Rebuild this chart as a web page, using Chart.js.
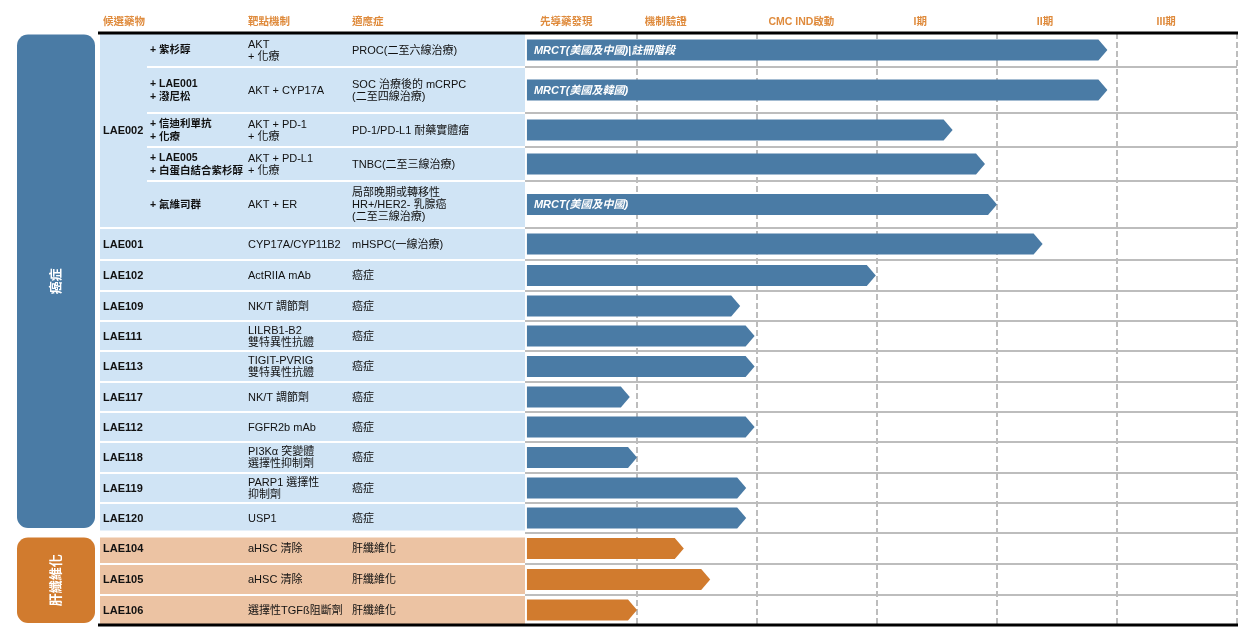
<!DOCTYPE html>
<html><head><meta charset="utf-8">
<script src="https://cdn.jsdelivr.net/npm/chart.js@4.4.1/dist/chart.umd.min.js"></script>
<style>html,body{margin:0;padding:0;background:#fff;}canvas{display:block}</style>
</head><body>
<canvas id="c" width="1256" height="644"></canvas>
<script>
// ---------------- data ----------------
const DRUGS = ['LAE002','LAE002','LAE002','LAE002','LAE002','LAE001','LAE102','LAE109','LAE111','LAE113','LAE117','LAE112','LAE118','LAE119','LAE120','LAE104','LAE105','LAE106'];
const COMBOS = ['+ 紫杉醇','+ LAE001\n+ 潑尼松','+ 信迪利單抗\n+ 化療','+ LAE005\n+ 白蛋白結合紫杉醇','+ 氟維司群','','','','','','','','','','','','',''];
const TARGETS = ['AKT\n+ 化療','AKT + CYP17A','AKT + PD-1\n+ 化療','AKT + PD-L1\n+ 化療','AKT + ER','CYP17A/CYP11B2','ActRIIA mAb','NK/T 調節劑','LILRB1-B2\n雙特異性抗體','TIGIT-PVRIG\n雙特異性抗體','NK/T 調節劑','FGFR2b mAb','PI3Kα 突變體\n選擇性抑制劑','PARP1 選擇性\n抑制劑','USP1','aHSC 清除','aHSC 清除','選擇性TGFß阻斷劑'];
const INDICATIONS = ['PROC(二至六線治療)','SOC 治療後的 mCRPC\n(二至四線治療)','PD-1/PD-L1 耐藥實體瘤','TNBC(二至三線治療)','局部晚期或轉移性\nHR+/HER2- 乳腺癌\n(二至三線治療)','mHSPC(一線治療)','癌症','癌症','癌症','癌症','癌症','癌症','癌症','癌症','癌症','肝纖維化','肝纖維化','肝纖維化'];
const GROUPS = ['癌症','癌症','癌症','癌症','癌症','癌症','癌症','癌症','癌症','癌症','癌症','癌症','癌症','癌症','癌症','肝纖維化','肝纖維化','肝纖維化'];
// progress reached, in stage units (0 = start of 先導藥發現, 6 = end of III期)
const STAGE_END = [4.92,4.92,3.63,3.9,4.0,4.38,2.99,1.86,1.98,1.98,0.94,1.98,1.0,1.91,1.91,1.39,1.61,1.0];
const BAR_NOTES = ['MRCT(美國及中國)|註冊階段','MRCT(美國及韓國)','','','MRCT(美國及中國)','','','','','','','','','','','','',''];
const STAGES = ['先導藥發現','機制驗證','CMC IND啟動','I期','II期','III期'];
const TABLE_HEADERS = ['候選藥物','靶點機制','適應症'];

// ---------------- layout / style ----------------
const ROW_HEIGHTS = [34,46,34,34,47,32,31,30,30,31,30,30,31,30,30,31,31,30];
const BAR_START = 0.083;
const STAGE_HEADER_POS = [0.41,1.24,2.37,3.36,4.4,5.41];
const COL_X = {drug:103, combo:150, target:248, ind:352, tableLeft:100, tableRight:525, comboLeft:147};
const STYLE = {
  '癌症': {dark:'#4a7ba5', light:'#d0e4f5'},
  '肝纖維化': {dark:'#d17b2e', light:'#ecc3a3'}
};
const FONT = "'Liberation Sans','Noto Sans CJK TC',sans-serif";
const HEADER_COLOR = '#df8b3d';
const TEXT_PX = 11;

const BOUNDS = [0];
ROW_HEIGHTS.forEach(h => BOUNDS.push(BOUNDS[BOUNDS.length-1] + h));
const TOTAL = BOUNDS[BOUNDS.length-1];
const CENTERS = ROW_HEIGHTS.map((h,i) => BOUNDS[i] + h/2);

function drawLines(ctx, text, x, y, lh, align){
  const lines = text.split('\n');
  ctx.textAlign = align || 'left';
  ctx.textBaseline = 'middle';
  const y0 = y - (lines.length-1)*lh/2;
  lines.forEach((l,k) => ctx.fillText(l, x, y0 + k*lh));
}

const tablePlugin = {
  id: 'pipelineTable',
  beforeDatasetsDraw(chart){
    const ctx = chart.ctx, ys = chart.scales.y, xs = chart.scales.x, ca = chart.chartArea;
    const py = v => ys.getPixelForValue(v);
    ctx.save();
    const groups = [];
    GROUPS.forEach((g,i) => {
      const last = groups[groups.length-1];
      if (last && last.name === g) last.end = i; else groups.push({name:g, start:i, end:i});
    });
    groups.forEach((grp, gi) => {
      const st = STYLE[grp.name];
      for (let i = grp.start; i <= grp.end; i++) {
        let t = py(BOUNDS[i]) + 1, b = py(BOUNDS[i+1]) - 1;
        if (i === grp.start && gi > 0) t += 3.5;
        if (i === grp.end && gi < groups.length-1) b -= 1.5;
        ctx.fillStyle = st.light;
        ctx.fillRect(COL_X.tableLeft, t, COL_X.tableRight - COL_X.tableLeft, b - t);
      }
      let bt = py(BOUNDS[grp.start]) + (gi > 0 ? 4.5 : 1.5);
      let bb = py(BOUNDS[grp.end+1]) - (gi < groups.length-1 ? 5 : 2);
      ctx.fillStyle = st.dark;
      ctx.beginPath();
      ctx.roundRect(17, bt, 78, bb - bt, 11);
      ctx.fill();
      ctx.save();
      ctx.translate(56, (bt + bb)/2);
      ctx.rotate(-Math.PI/2);
      ctx.fillStyle = '#fff';
      ctx.font = 'bold 13px ' + FONT;
      ctx.textAlign = 'center'; ctx.textBaseline = 'middle';
      ctx.fillText(grp.name, 0, 0);
      ctx.restore();
    });
    let i = 0;
    const spans = [];
    while (i < DRUGS.length) {
      let j = i;
      while (j+1 < DRUGS.length && DRUGS[j+1] === DRUGS[i] && COMBOS[j+1]) j++;
      spans.push({start:i, end:j});
      i = j+1;
    }
    spans.forEach(sp => {
      if (sp.end > sp.start) {
        const t = py(BOUNDS[sp.start]) + 1, b = py(BOUNDS[sp.end+1]) - 1;
        ctx.fillStyle = STYLE[GROUPS[sp.start]].light;
        ctx.fillRect(COL_X.tableLeft, t, COL_X.comboLeft - COL_X.tableLeft, b - t);
      }
    });
    ctx.fillStyle = '#111';
    spans.forEach(sp => {
      ctx.font = 'bold ' + TEXT_PX + 'px ' + FONT;
      const cy = (py(BOUNDS[sp.start]) + py(BOUNDS[sp.end+1]))/2;
      drawLines(ctx, DRUGS[sp.start], COL_X.drug, cy + 0.5, 12);
    });
    for (let r = 0; r < DRUGS.length; r++) {
      const cy = py(CENTERS[r]) + 0.5;
      if (COMBOS[r]) { ctx.font = 'bold 10.5px ' + FONT; drawLines(ctx, COMBOS[r], COL_X.combo, cy, 13); }
      ctx.font = TEXT_PX + 'px ' + FONT;
      drawLines(ctx, TARGETS[r], COL_X.target, cy, 12);
      drawLines(ctx, INDICATIONS[r], COL_X.ind, cy, 12);
    }
    ctx.strokeStyle = '#bdbdbd'; ctx.lineWidth = 2;
    for (let k = 1; k < BOUNDS.length-1; k++) {
      const y = py(BOUNDS[k]);
      ctx.beginPath(); ctx.moveTo(COL_X.tableRight, y); ctx.lineTo(ca.right, y); ctx.stroke();
    }
    ctx.setLineDash([6,3]);
    for (let s = 1; s <= STAGES.length; s++) {
      const x = xs.getPixelForValue(s);
      ctx.beginPath(); ctx.moveTo(x, ca.top); ctx.lineTo(x, ca.bottom); ctx.stroke();
    }
    ctx.setLineDash([]);
    ctx.strokeStyle = '#000'; ctx.lineWidth = 3;
    [ca.top, ca.bottom].forEach(y => { ctx.beginPath(); ctx.moveTo(COL_X.tableLeft - 2, y); ctx.lineTo(ca.right + 1, y); ctx.stroke(); });
    ctx.fillStyle = HEADER_COLOR;
    ctx.font = 'bold 10.5px ' + FONT;
    ctx.textBaseline = 'middle';
    ctx.textAlign = 'left';
    [COL_X.drug, COL_X.target, COL_X.ind].forEach((x,k) => ctx.fillText(TABLE_HEADERS[k], x, 22));
    ctx.textAlign = 'center';
    STAGES.forEach((s,k) => ctx.fillText(s, xs.getPixelForValue(STAGE_HEADER_POS[k]), 22));
    ctx.restore();
  },
  beforeDatasetDraw(chart, args){
    const ctx = chart.ctx;
    const meta = args.meta;
    ctx.save();
    meta.data.forEach((el, i) => {
      const p = el.getProps(['x','y','base','height'], true);
      const h = p.height, tip = p.x, head = 9;
      ctx.fillStyle = STYLE[GROUPS[i]].dark;
      ctx.beginPath();
      ctx.moveTo(p.base, p.y - h/2);
      ctx.lineTo(tip - head, p.y - h/2);
      ctx.lineTo(tip, p.y);
      ctx.lineTo(tip - head, p.y + h/2);
      ctx.lineTo(p.base, p.y + h/2);
      ctx.closePath();
      ctx.fill();
      if (BAR_NOTES[i]) {
        ctx.fillStyle = '#fff';
        ctx.font = 'italic bold 11px ' + FONT;
        ctx.textAlign = 'left'; ctx.textBaseline = 'middle';
        ctx.fillText(BAR_NOTES[i], p.base + 7, p.y + 0.5);
      }
    });
    ctx.restore();
    return false;
  }
};

new Chart(document.getElementById('c'), {
  type: 'bar',
  data: {
    datasets: [{
      label: '進度',
      data: STAGE_END.map((v,i) => ({x: [BAR_START, v], y: CENTERS[i]})),
      backgroundColor: GROUPS.map(g => STYLE[g].dark),
      barThickness: 21,
      borderWidth: 0
    }]
  },
  options: {
    indexAxis: 'y',
    responsive: false,
    animation: false,
    devicePixelRatio: 1,
    layout: {padding: {left: 517, right: 19, top: 33, bottom: 19}},
    scales: {
      x: {type: 'linear', min: 0, max: STAGES.length, display: false, offset: false},
      y: {type: 'linear', min: 0, max: TOTAL, reverse: true, display: false, offset: false, grace: 0}
    },
    plugins: {legend: {display: false}, tooltip: {enabled: false}}
  },
  plugins: [tablePlugin]
});
</script>
</body></html>
